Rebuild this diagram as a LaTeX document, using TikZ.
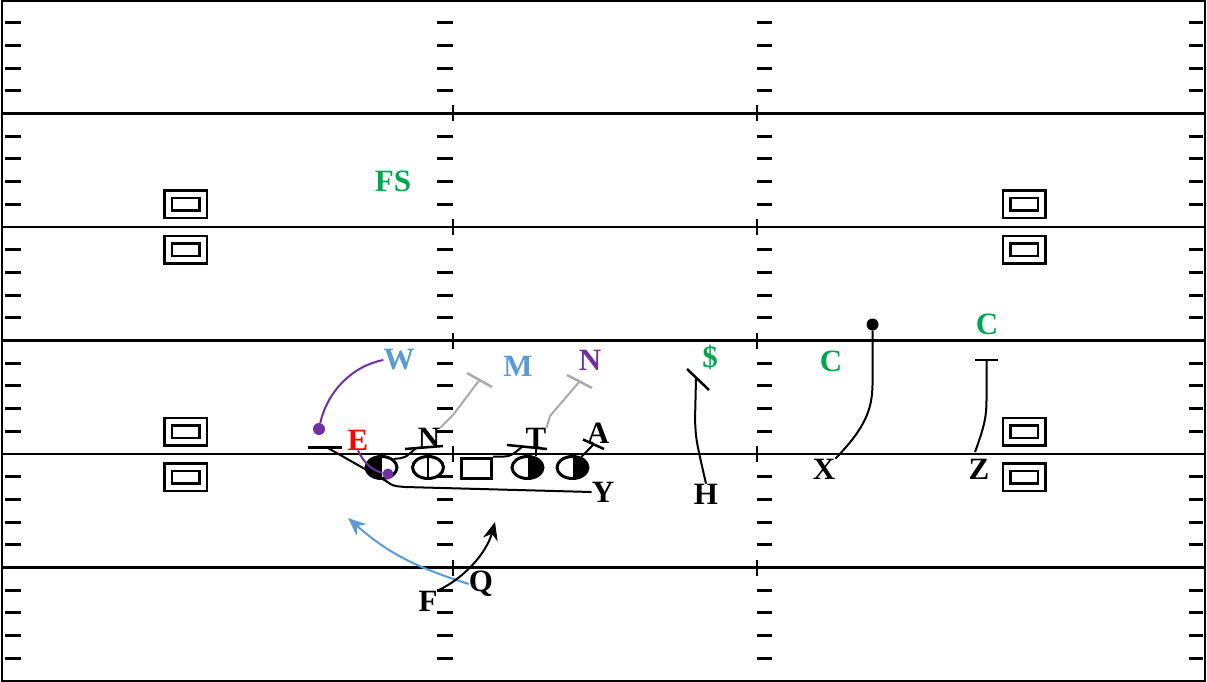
\documentclass[tikz,border=0pt]{standalone}
\usepackage{fontspec}
\setmainfont{Liberation Serif}
\usetikzlibrary{shapes.geometric, arrows.meta}
\definecolor{fldgreen}{RGB}{0,166,81}
\definecolor{fldblue}{RGB}{91,155,213}
\definecolor{fldpurple}{RGB}{112,48,160}
\definecolor{fldred}{RGB}{255,0,0}
\definecolor{fldgray}{RGB}{170,170,170}
\tikzset{
  yardline/.style={line width=2.5pt, color=black},
  hashmark/.style={line width=3pt, color=black},
  numbox/.style={rectangle, draw, double, double distance=5pt, line width=2.5pt,
    minimum width=35pt, minimum height=20pt, inner sep=0pt},
  lineman/.style={ellipse, draw, line width=3pt, minimum width=31pt,
    minimum height=22pt, inner sep=0pt},
  halfleft/.style={lineman, path picture={\fill (path picture bounding box.south west)
    rectangle (path picture bounding box.north);}},
  halfright/.style={lineman, path picture={\fill (path picture bounding box.south)
    rectangle (path picture bounding box.north east);}},
  splitoval/.style={lineman, path picture={\draw[line width=2.5pt] (path picture bounding box.north)
    -- (path picture bounding box.south);}},
  ctrbox/.style={rectangle, draw, line width=3pt, minimum width=30pt,
    minimum height=20pt, inner sep=0pt},
  lbl/.style={inner sep=0pt, font=\fontsize{31}{31}\selectfont\bfseries},
  dot/.style={circle, fill, inner sep=0pt, minimum size=12pt},
  route/.style={line width=2pt, color=black},
  bar/.style={line width=2.5pt, color=black},
  grayroute/.style={line width=2pt, color=fldgray},
  arrow/.style={-{Stealth[length=18pt, width=15pt]}, line width=2pt}
}
\begin{document}
\begin{tikzpicture}[x=1pt, y=-1pt]
  \fill[white] (0,0) rectangle (1207,682);
  \useasboundingbox (0,0) rectangle (1207,682);

  % field
  \draw[line width=2pt] (2,1.5) rectangle (1205,680.5);
  \foreach \yl in {1,...,5} {
    \draw[yardline] (3,\yl*113.5) -- (1205,\yl*113.5);
    \draw[yardline] (453,\yl*113.5-8) -- (453,\yl*113.5+8);
    \draw[yardline] (757,\yl*113.5-8) -- (757,\yl*113.5+8);
  }
  \foreach \yl in {0,...,5}
    \foreach \h in {1,...,4} {
      \pgfmathsetmacro{\hy}{\yl*113.5+\h*22.7}
      \foreach \xa/\xb in {5/21, 437/453, 757/772, 1189/1203}
        \draw[hashmark] (\xa,\hy) -- (\xb,\hy);
    }
  \foreach \bx [count=\i] in {185.5, 1024}
    \foreach \by [count=\j] in {204.3, 249.7, 431.5, 477}
      \node[numbox] (nb\i\j) at (\bx,\by) {};

  % offense
  \node[halfleft] (lt) at (381.5,467.5) {};
  \node[splitoval] (lg) at (428,467.5) {};
  \node[ctrbox] (ctr) at (476.5,468) {};
  \node[halfright] (rg) at (527.5,467.5) {};
  \node[halfright] (rt) at (572.5,467.5) {};
  \node[lbl] (Y) at (603,492) {Y};
  \node[lbl] (H) at (706,494) {H};
  \node[lbl] (X) at (824,469) {X};
  \node[lbl] (Z) at (979,469) {Z};
  \node[lbl] (F) at (428,601) {F};
  \node[lbl] (Q) at (481,584) {Q};

  % defense
  \node[lbl, fldgreen] (FS) at (393,181) {FS};
  \node[lbl, fldblue] (W) at (399,360) {W};
  \node[lbl, fldblue] (M) at (518,366) {M};
  \node[lbl, fldpurple] (Nb) at (590,360) {N};
  \node[lbl, fldgreen] (S) at (710,357) {\$};
  \node[lbl, fldgreen] (C1) at (831,361) {C};
  \node[lbl, fldgreen] (C2) at (987,324) {C};
  \node[lbl, fldred] (E) at (358,440) {E};
  \node[lbl] (N) at (429,438) {N};
  \node[lbl] (T) at (536,438) {T};
  \node[lbl] (A) at (598,433) {A};

  % dots
  \node[dot, fldpurple] (wdot) at (319,429) {};
  \node[dot, fldpurple, minimum size=11pt] (edot) at (388,474) {};
  \node[dot] (xdot) at (872.5,324.5) {};

  % blocks
  \coordinate (ybar) at (327,447.5);
  \draw[bar] (308,447.5) -- (342,447.5);
  \draw[route] (Y.west) -- (405,487) .. controls (393,486) .. (386,481) -- (ybar);
  \coordinate (nbar) at (416,448);
  \draw[bar] (405,449) -- (443,446);
  \draw[route] (lt.35) .. controls (405,458) .. (nbar);
  \coordinate (tbar) at (523,446);
  \draw[bar] (507,445) -- (547,449);
  \draw[route] (ctr.north east) .. controls (510,457) .. (tbar);
  \draw[route] (535.5,456) -- (535.5,447.5);
  \coordinate (abar) at (594,444);
  \draw[bar] (583,439.5) -- (604,449);
  \draw[route] (rt.50) -- (abar);

  % linebacker fits
  \coordinate (mbar) at (479.5,380);
  \draw[grayroute, line width=2.5pt] (467,373) -- (492,387);
  \draw[grayroute] (N.north east) -- (453,415) -- (mbar);
  \coordinate (nbbar) at (579.5,381.5);
  \draw[grayroute, line width=2.5pt] (567,375) -- (592,388);
  \draw[grayroute] (T.north east) -- (550,416) -- (nbbar);

  % rushers
  \draw[line width=2pt, fldpurple] (W.west) .. controls (352,366) and (327,392) .. (wdot);
  \draw[line width=2pt, fldpurple] (E.south) .. controls (364,464) and (374,471) .. (edot);

  % receivers
  \coordinate (hbar) at (696,379);
  \draw[bar] (687,369) -- (709,390);
  \draw[route] (H.north) .. controls (696,440) .. (695,420) -- (hbar);
  \draw[route] (X.north east) .. controls (865,428) and (872,410) .. (872.5,385) -- (xdot);
  \coordinate (zbar) at (986.5,360);
  \draw[bar] (975,360) -- (998,360);
  \draw[route] (975,452) .. controls (985,425) and (986.5,415) .. (986.5,400) -- (zbar);

  % backfield
  \coordinate (qend) at (348,518);
  \draw[arrow, fldblue] (Q.west) .. controls (415,567) and (388,553) .. (qend);
  \coordinate (fend) at (495,522);
  \draw[arrow] (F.north east) .. controls (470,575) and (488,548) .. (fend);
\end{tikzpicture}
\end{document}
